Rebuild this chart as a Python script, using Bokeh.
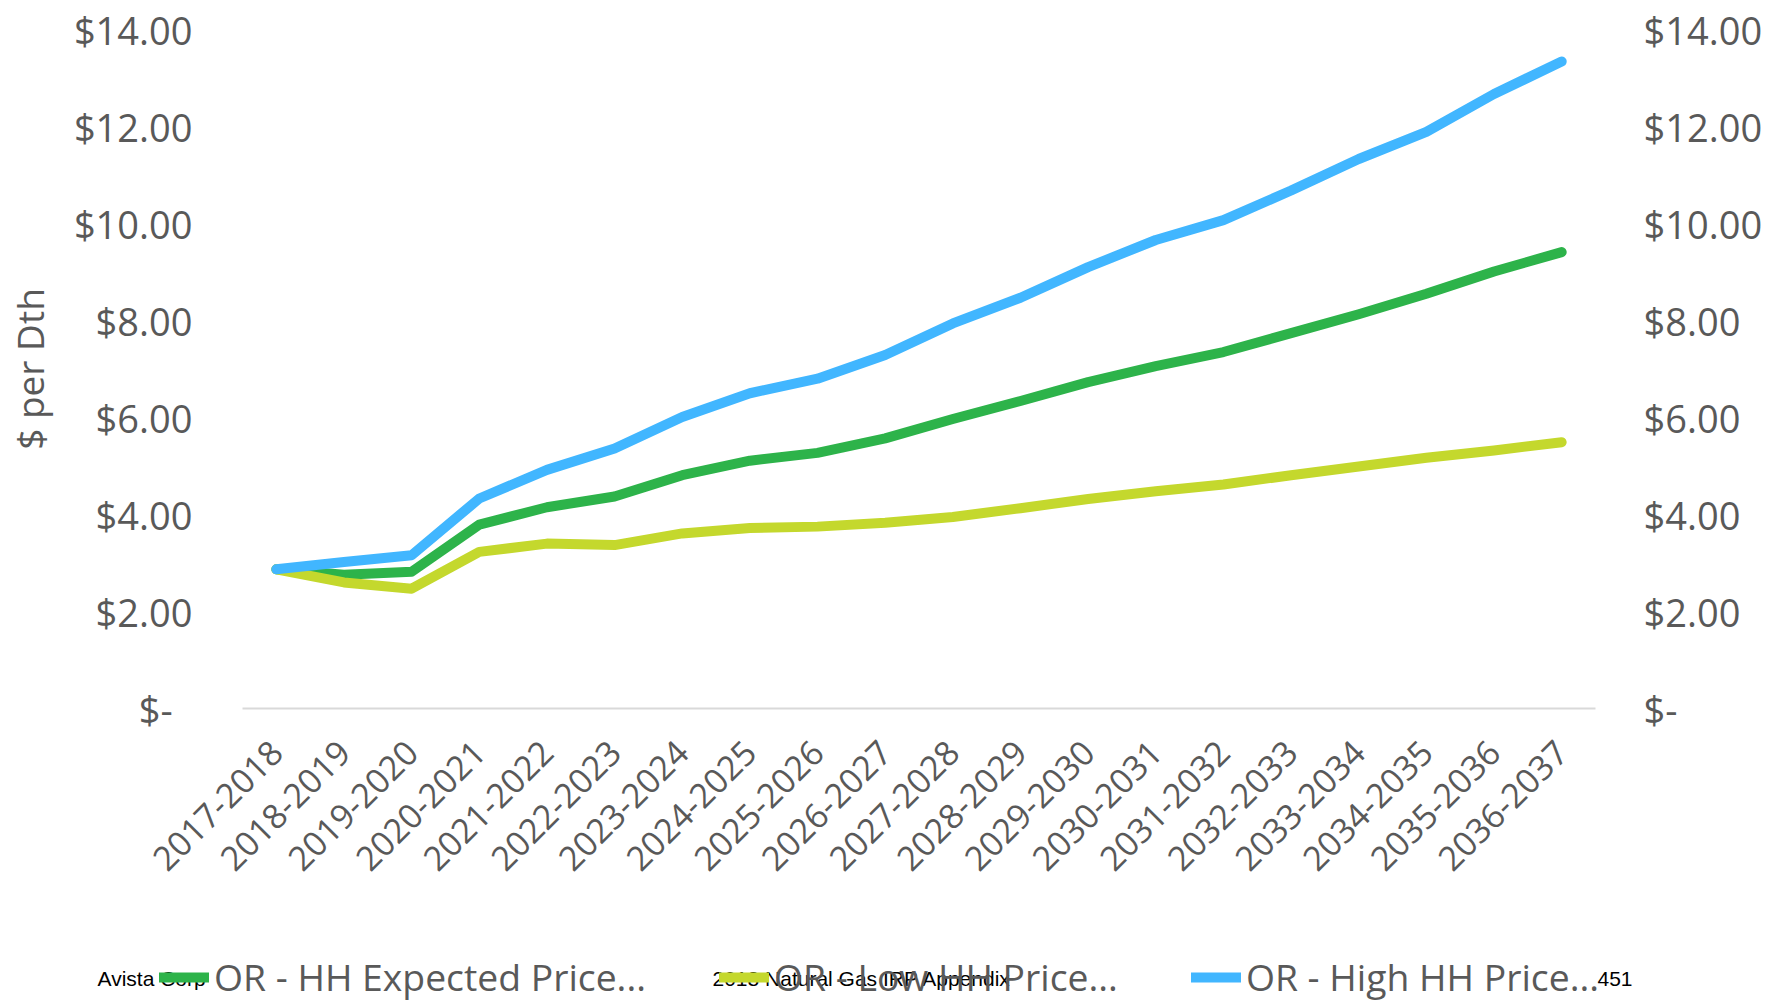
import math
from bokeh.plotting import figure
from bokeh.layouts import column
from bokeh.models import (FactorRange, Range1d, LinearAxis, FixedTicker,
                          CustomJSTickFormatter, Legend, LegendItem, Label)
from bokeh.embed import file_html
from bokeh.resources import INLINE

years = ["2017-2018", "2018-2019", "2019-2020", "2020-2021", "2021-2022",
         "2022-2023", "2023-2024", "2024-2025", "2025-2026", "2026-2027",
         "2027-2028", "2028-2029", "2029-2030", "2030-2031", "2031-2032",
         "2032-2033", "2033-2034", "2034-2035", "2035-2036", "2036-2037"]

expected = [2.87, 2.76, 2.82, 3.79, 4.15, 4.37, 4.81, 5.11, 5.27, 5.57,
            5.97, 6.34, 6.73, 7.06, 7.35, 7.74, 8.13, 8.55, 9.01, 9.41]
low = [2.87, 2.60, 2.47, 3.23, 3.40, 3.37, 3.61, 3.72, 3.75, 3.83,
       3.95, 4.13, 4.32, 4.48, 4.62, 4.81, 4.99, 5.17, 5.32, 5.49]
high = [2.87, 3.02, 3.16, 4.33, 4.92, 5.36, 6.01, 6.50, 6.80, 7.29,
        7.94, 8.47, 9.10, 9.66, 10.07, 10.68, 11.33, 11.89, 12.67, 13.34]

series_labels = ["OR - HH Expected Price...", "OR - Low HH Price...", "OR - High HH Price..."]
series_colors = ["#2DB34A", "#C4D82D", "#41B6FF"]
y_ticks = [0, 2, 4, 6, 8, 10, 12, 14]
y_label = "$ per Dth"
footer_texts = ["Avista Corp", "2018 Natural Gas IRP Appendix", "451"]

TXT = "#595959"
xr = FactorRange(factors=years)

p = figure(frame_width=1353, frame_height=679, x_range=xr,
           y_range=Range1d(0, 14), output_backend="svg", toolbar_location=None,
           min_border_left=240, min_border_right=173, min_border_top=29,
           min_border_bottom=238)
p.frame_align = False
p.outline_line_color = None
p.xgrid.visible = False
p.ygrid.visible = False

for vals, col in zip([expected, low, high], series_colors):
    p.line(years, vals, line_color=col, line_width=10,
           line_cap="round", line_join="round")

# bottom axis
xa = p.xaxis[0]
xa.major_label_orientation = math.pi / 4
xa.axis_line_color = "#D9D9D9"
xa.axis_line_width = 2
xa.major_tick_line_color = None
xa.major_tick_out = 0
xa.major_tick_in = 0
xa.major_label_text_font = "Open Sans"
xa.major_label_text_font_size = "34px"
xa.major_label_text_color = TXT
xa.major_label_standoff = 38

# left axis
ya = p.yaxis[0]
ya.ticker = FixedTicker(ticks=y_ticks)
ya.formatter = CustomJSTickFormatter(
    code="return tick == 0 ? '$-\\u00a0\\u00a0' : '$' + tick.toFixed(2);")
ya.axis_line_color = None
ya.major_tick_line_color = None
ya.minor_tick_line_color = None
ya.major_tick_out = 0
ya.major_tick_in = 0
ya.minor_tick_out = 0
ya.major_label_text_font = "Open Sans"
ya.major_label_text_font_size = "38px"
ya.major_label_text_color = TXT
ya.major_label_standoff = 50
ya.axis_label = y_label
ya.axis_label_text_font = "Open Sans"
ya.axis_label_text_font_size = "37px"
ya.axis_label_text_font_style = "normal"
ya.axis_label_text_color = TXT
ya.axis_label_standoff = 16

# right axis
ra = LinearAxis(ticker=FixedTicker(ticks=y_ticks),
                formatter=CustomJSTickFormatter(
                    code="return tick == 0 ? '$-' : '$' + tick.toFixed(2);"))
ra.axis_line_color = None
ra.major_tick_line_color = None
ra.minor_tick_line_color = None
ra.major_tick_out = 0
ra.major_tick_in = 0
ra.minor_tick_out = 0
ra.major_label_text_font = "Open Sans"
ra.major_label_text_font_size = "38px"
ra.major_label_text_color = TXT
ra.major_label_standoff = 48
p.add_layout(ra, "right")

# legend / footer strip
p2 = figure(width=1766, height=54, x_range=xr, y_range=Range1d(0, 1),
            output_backend="svg", toolbar_location=None,
            x_axis_type=None, y_axis_type=None,
            min_border_left=0, min_border_right=0, min_border_top=0,
            min_border_bottom=0)
p2.frame_align = False
p2.outline_line_color = None
proxies = []
for vals, col in zip([expected, low, high], series_colors):
    proxies.append(p2.line(years, vals, line_color=col, line_width=10,
                           line_cap="round", line_join="round", visible=False))

legend = Legend(items=[LegendItem(label=lab, renderers=[r])
                       for lab, r in zip(series_labels, proxies)],
                orientation="horizontal", location=(159, -2),
                label_text_font="Open Sans", label_text_font_size="37.3px",
                label_text_color=TXT, glyph_width=50, glyph_height=20,
                label_standoff=5, spacing=73, padding=0, margin=0,
                border_line_color=None, background_fill_alpha=0)
p2.add_layout(legend, "center")

for txt, xs in zip(footer_texts, [97, 712, 1597]):
    p2.add_layout(Label(x=xs, y=22, x_units="screen", y_units="screen",
                        text=txt, text_font="Liberation Sans",
                        text_font_size="21px", text_color="black",
                        text_baseline="alphabetic"))

layout = column(p, p2, spacing=0)
open("out.html", "w").write(file_html(layout, INLINE))
